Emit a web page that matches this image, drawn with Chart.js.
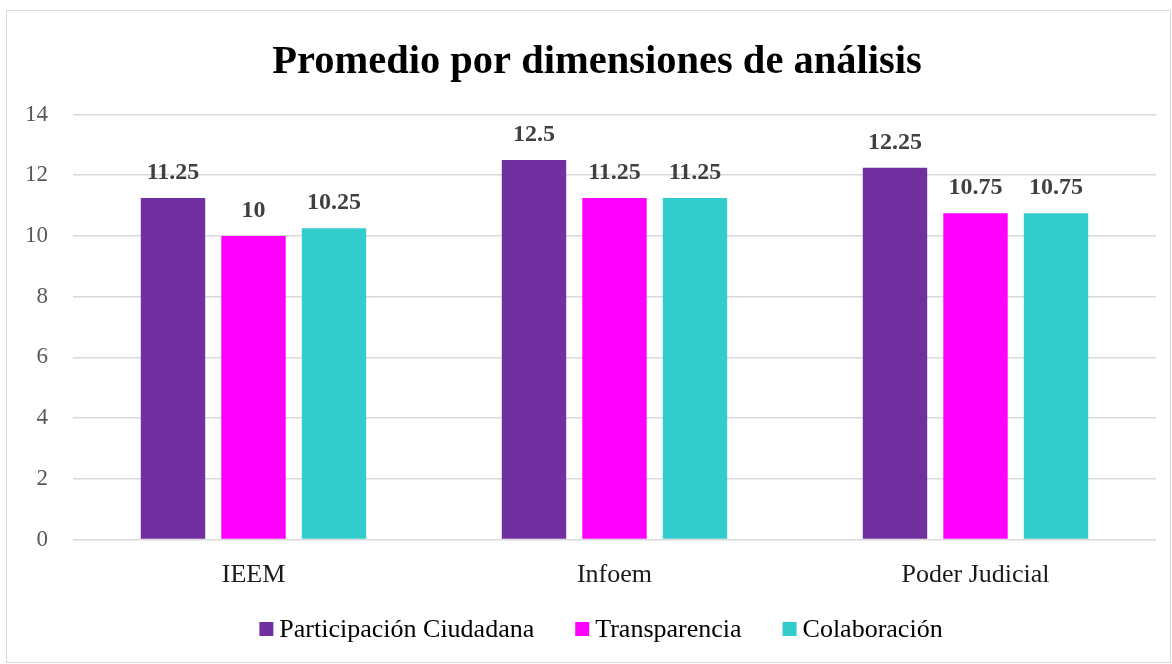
<!DOCTYPE html>
<html>
<head>
<meta charset="utf-8">
<script src="https://cdn.jsdelivr.net/npm/chart.js@4"></script>
<style>
  html, body { margin: 0; padding: 0; background: #fff; }
  #frame { position: absolute; left: 6px; top: 10px; width: 1165px; height: 653px; border: 1.5px solid #d9d9d9; box-sizing: border-box; }
  #wrap { position: absolute; left: 0; top: 0; width: 1172px; height: 664px; }
</style>
</head>
<body>
<div id="frame"></div>
<div id="wrap"><canvas id="chart"></canvas></div>
<script>
const categories = ['IEEM', 'Infoem', 'Poder Judicial'];
const seriesNames = ['Participación Ciudadana', 'Transparencia', 'Colaboración'];
const participacion = [11.25, 12.5, 12.25];
const transparencia = [10, 11.25, 10.75];
const colaboracion = [10.25, 11.25, 10.75];
const yTicks = [0, 2, 4, 6, 8, 10, 12, 14];
const titleText = 'Promedio por dimensiones de análisis';

const serif = '"Liberation Serif", "DejaVu Serif", serif';
const colors = ['#7030a0', '#ff00ff', '#33cccc'];

// title, value labels and legend drawn by hand so they sit where the original has them
const decorations = {
  id: 'decorations',
  afterDatasetsDraw(chart) {
    const ctx = chart.ctx;
    ctx.save();
    ctx.font = 'bold 24px ' + serif;
    ctx.fillStyle = '#404040';
    ctx.textAlign = 'center';
    ctx.textBaseline = 'alphabetic';
    chart.data.datasets.forEach((ds, i) => {
      chart.getDatasetMeta(i).data.forEach((bar, j) => {
        ctx.fillText(String(ds.data[j]), bar.x, bar.y - 19);
      });
    });
    ctx.restore();
  },
  afterDraw(chart) {
    const ctx = chart.ctx;
    ctx.save();
    ctx.font = 'bold 40.5px ' + serif;
    ctx.fillStyle = '#000';
    ctx.textAlign = 'center';
    ctx.textBaseline = 'alphabetic';
    ctx.fillText(titleText, 597, 73);

    // legend
    ctx.font = '26px ' + serif;
    const box = 14, gap = 6, itemGap = 41;
    const items = chart.data.datasets.map(ds => ({ text: ds.label, color: ds.backgroundColor, w: ctx.measureText(ds.label).width }));
    const total = items.reduce((s, it) => s + box + gap + it.w, 0) + itemGap * (items.length - 1);
    let x = 601 - total / 2;
    ctx.textAlign = 'left';
    items.forEach(it => {
      ctx.fillStyle = it.color;
      ctx.fillRect(x, 622, box, box);
      ctx.fillStyle = '#000';
      ctx.fillText(it.text, x + box + gap, 637);
      x += box + gap + it.w + itemGap;
    });
    ctx.restore();
  }
};

new Chart(document.getElementById('chart'), {
  type: 'bar',
  data: {
    labels: categories,
    datasets: [participacion, transparencia, colaboracion].map((d, i) => ({
      label: seriesNames[i],
      data: d,
      backgroundColor: colors[i],
      categoryPercentage: 0.669,
      barPercentage: 0.8
    }))
  },
  options: {
    responsive: true,
    maintainAspectRatio: false,
    animation: false,
    layout: { padding: { top: 114.5, right: 16, bottom: 54.5, left: 0 } },
    plugins: {
      title: { display: false },
      legend: { display: false },
      tooltip: { enabled: false }
    },
    scales: {
      x: {
        afterFit: s => { s.height = 70; },
        grid: { display: false },
        border: { display: false },
        ticks: { color: '#1a1a1a', font: { family: serif, size: 26 }, padding: 12 }
      },
      y: {
        min: 0,
        max: 14,
        afterBuildTicks: s => { s.ticks = yTicks.map(v => ({ value: v })); },
        afterFit: s => { s.width = 73; },
        grid: { color: '#d9d9d9', lineWidth: 1.5, drawTicks: false },
        border: { display: false },
        ticks: { color: '#595959', font: { family: serif, size: 23 }, padding: 25 }
      }
    }
  },
  plugins: [decorations]
});
</script>
</body>
</html>
